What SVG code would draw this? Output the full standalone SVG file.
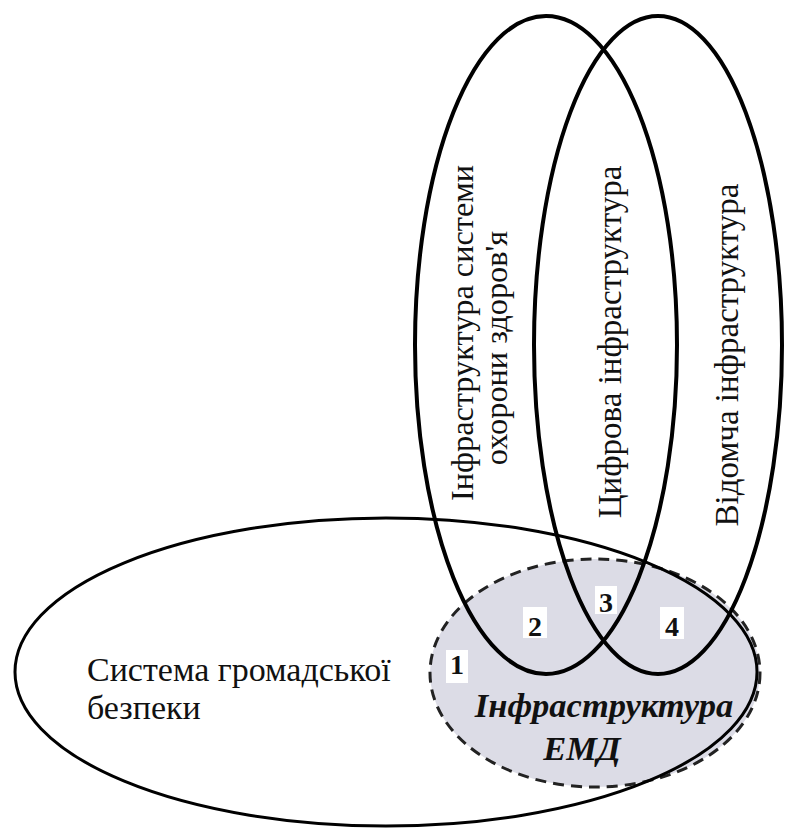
<svg xmlns="http://www.w3.org/2000/svg" width="788" height="830" viewBox="0 0 788 830">
  <style>
    .ring { fill: none; stroke: #000; stroke-width: 4; }
    .thin { fill: none; stroke: #000; stroke-width: 3; }
    .dash { fill: #dcdce6; stroke: #222; stroke-width: 3; stroke-dasharray: 11 7; }
    .lbl { font-family: "Liberation Serif", "Times New Roman", serif; font-size: 33px; fill: #111; }
    .big { font-size: 34px; }
    .hc { font-size: 32.3px; }
    .num { font-family: "Liberation Serif", "Times New Roman", serif; font-size: 28px; font-weight: bold; fill: #111; text-anchor: middle; }
    .emd { font-family: "Liberation Serif", "Times New Roman", serif; font-size: 34.5px; font-weight: bold; font-style: italic; fill: #111; text-anchor: middle; }
    .box { fill: #fff; }
  </style>
  <rect width="788" height="830" fill="#fff"/>

  <!-- EMD infrastructure area (dashed, shaded) -->
  <g id="emd">
    <ellipse class="dash" cx="595" cy="673" rx="165" ry="114"/>
    <text class="emd" x="604" y="717">Інфраструктура</text>
    <text class="emd" x="582" y="760">ЕМД</text>
  </g>

  <!-- Public security system -->
  <g id="public-security">
    <ellipse class="thin" cx="386" cy="672" rx="371" ry="154"/>
    <text class="lbl big" x="87" y="681">Система громадської</text>
    <text class="lbl big" x="87" y="719">безпеки</text>
  </g>

  <!-- Healthcare system infrastructure -->
  <g id="healthcare">
    <ellipse class="ring" cx="546" cy="345" rx="131" ry="329"/>
    <text class="lbl hc" text-anchor="middle" transform="translate(473,333) rotate(-90)">Інфраструктура системи</text>
    <text class="lbl hc" text-anchor="middle" transform="translate(507,348) rotate(-90)">охорони здоров'я</text>
  </g>

  <!-- Departmental infrastructure -->
  <g id="departmental">
    <ellipse class="ring" cx="658" cy="345" rx="124" ry="329"/>
    <text class="lbl" text-anchor="middle" transform="translate(738,355) rotate(-90)">Відомча інфраструктура</text>
  </g>

  <!-- Digital infrastructure (the overlap of the two vertical rings) -->
  <g id="digital">
    <text class="lbl" text-anchor="middle" transform="translate(621,342) rotate(-90)">Цифрова інфраструктура</text>
  </g>

  <!-- Zone numbers -->
  <g id="zones">
    <rect class="box" x="446" y="650" width="22" height="33"/>
    <text class="num" x="457" y="674">1</text>
    <rect class="box" x="523" y="607" width="24" height="31"/>
    <text class="num" x="535" y="636">2</text>
    <rect class="box" x="595" y="586" width="22" height="28"/>
    <text class="num" x="606" y="612">3</text>
    <rect class="box" x="660" y="607" width="24" height="32"/>
    <text class="num" x="672" y="636">4</text>
  </g>
</svg>
